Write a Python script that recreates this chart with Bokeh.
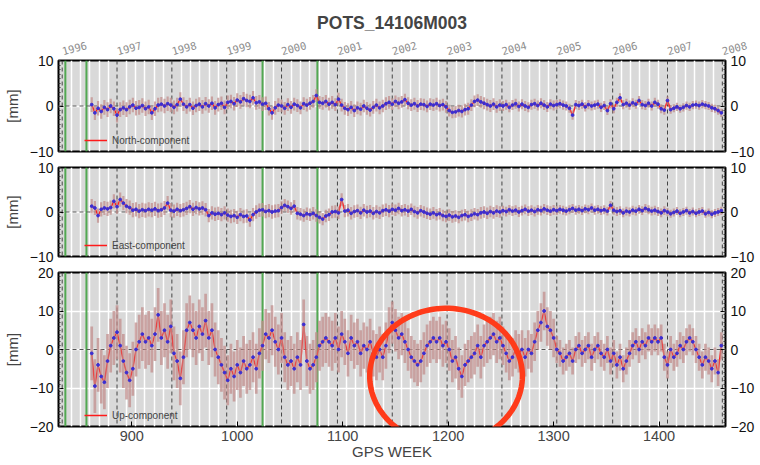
import datetime as dt
import numpy as np
from bokeh.plotting import figure
from bokeh.models import (Range1d, FixedTicker, LinearAxis, Span, Legend, LegendItem,
                          PolyAnnotation, Grid, ColumnDataSource)
from bokeh.layouts import column
from bokeh.embed import file_html
from bokeh.resources import INLINE

title_text = "POTS_14106M003"
x_label = "GPS WEEK"
y_label = "[mm]"
year_labels = ["1996", "1997", "1998", "1999", "2000", "2001", "2002",
               "2003", "2004", "2005", "2006", "2007", "2008"]
year_weeks = [834, 886, 938, 990, 1042, 1095, 1147, 1199, 1251, 1303, 1356, 1408, 1460]
green_weeks = [837, 857, 1024, 1076]
x_ticks = [900, 1000, 1100, 1200, 1300, 1400]
names = ["North-component", "East-component", "Up-component"]

weeks = list(range(862, 1460, 3))

north = [0.3, -1.5, -0.5, -1.2, -0.3, -0.8, 0.0, -0.6, -2.0, -0.8,
         -0.4, -0.8, -0.2, 0.2, -0.5, -0.3, 0.1, -0.6, -0.2, -1.5,
         -0.6, 0.2, 0.4, 0.0, 0.5, 0.2, -0.3, 0.3, 1.5, 0.4,
         -0.2, 0.3, -0.5, 0.1, 0.4, -0.2, 0.5, 0.0, 0.6, -0.4,
         0.3, 0.6, -0.3, 0.8, 1.0, 0.5, 1.3, 0.9, 1.6, 1.2,
         1.0, 1.8, 0.7, 0.9, 0.4, 0.6, -0.6, -1.5, -0.4, 0.2,
         0.0, -0.5, 0.3, -0.3, 0.4, 0.1, -0.4, 0.5, 0.2, 0.6,
         1.0, 2.3, 0.8, 0.6, 1.0, 0.4, 0.8, 0.3, 1.5, 0.2,
         -0.5, -0.8, -0.3, -1.0, -0.4, -0.7, 0.0, -0.5, -0.9, -0.3,
         0.2, -0.4, 0.0, 0.5, 0.8, 0.4, 1.0, 0.6, 0.9, 1.4,
         0.6, 0.2, 0.5, 0.0, 0.4, 0.3, -0.1, 0.4, 0.2, 0.5,
         0.1, 0.3, -0.2, -1.0, -1.4, -1.3, -1.0, -1.2, -0.8, -0.6,
         0.2, 1.0, 1.3, 0.9, 0.6, 0.3, 0.0, 0.4, -0.2, 0.2,
         0.0, 0.3, -0.3, 0.2, 0.5, -0.1, 0.4, 0.0, -0.3, 0.3,
         0.5, 0.1, 0.6, 0.2, -0.2, 0.4, 0.1, 0.3, 0.5, 0.2,
         0.0, -0.5, -2.0, 0.3, 0.1, 0.4, -0.2, 0.3, 0.0, 0.2,
         0.4, -0.3, 0.1, -1.0, 0.5, -0.6, 0.8, 1.8, 0.3, 0.6,
         0.2, 0.7, 0.4, 1.2, 0.3, 0.1, 0.6, 0.0, 0.8, 0.4,
         -0.6, -0.9, 1.2, -0.8, -0.5, -0.2, -0.6, -0.3, 0.1, -0.2,
         0.2, 0.3, 0.1, 0.4, 0.2, 0.0, -0.4, -0.6, -1.0, -1.5]

east = [1.3, 0.9, -0.8, 0.6, 0.9, 0.7, 1.0, 2.4, 1.2, 2.8,
        2.0, 1.3, 1.0, 0.4, 0.6, 0.2, 0.5, 0.3, 0.6, 0.4,
        0.7, 0.3, 0.5, 0.9, 2.0, 0.4, 0.2, 0.6, 0.3, 0.5,
        0.8, 1.2, 0.6, 1.0, 0.7, 0.9, 0.5, -0.8, -0.2, -0.5,
        -0.3, -0.6, -0.2, -0.7, -1.0, -0.8, -1.2, -0.6, -1.0, -0.9,
        -1.8, -0.6, 0.0, 0.4, 0.5, 0.1, 0.3, 0.0, 0.2, 0.3,
        1.0, 1.5, 1.2, 0.8, 1.3, -0.3, -0.5, -0.8, -0.4, -0.6,
        -0.3, -0.8, -1.2, -1.6, -0.9, -0.6, 0.0, 0.1, -0.2, 2.8,
        0.2, 0.4, -0.3, 0.1, 0.3, -0.2, 0.4, 0.0, 0.2, -0.3,
        0.1, -0.2, 0.3, 0.5, 0.2, 0.6, 0.4, 0.8, 0.3, 0.5,
        0.2, 0.6, 0.1, -0.2, 0.3, 0.0, -0.3, -0.5, -0.2, -0.6,
        -0.4, -0.8, -1.0, -0.7, -1.1, -0.9, -1.2, -0.8, -0.6, -1.0,
        -0.7, -0.4, -0.6, -0.2, 0.0, -0.3, 0.1, -0.2, 0.2, 0.0,
        0.3, 0.1, 0.5, 0.2, 0.4, 0.0, 0.3, 0.6, 0.2, 0.4,
        0.1, 0.5, 0.3, 0.7, 0.4, 0.2, 0.5, 0.3, 0.6, 0.4,
        0.2, 0.5, 0.8, 0.4, 0.6, 0.3, 0.7, 0.5, 0.9, 0.4,
        0.6, 0.3, 0.5, 0.2, 1.5, 0.4, 0.1, 0.3, -0.2, 0.2,
        0.0, 0.4, 0.2, 0.6, 0.3, 0.8, 0.5, 0.2, 0.4, 0.1,
        -0.2, 0.3, 0.0, -0.4, -0.1, 0.2, -0.3, 0.0, 0.3, -0.2,
        0.1, -0.3, 0.0, 0.2, -0.4, -0.1, -0.5, -0.2, 0.0, 0.3]

up = [-1.0, -9.5, -4.0, -7.0, -8.5, -3.0, 1.0, 3.0, 4.5, 1.0,
      -3.0, -6.0, -8.0, -5.0, 0.0, 2.0, 4.0, 2.0, 3.0, 1.0,
      4.0, 9.0, 3.0, 5.0, 2.0, 6.0, -1.0, -3.0, -7.5, -2.0,
      5.0, 7.0, 5.0, 3.0, 6.0, 4.0, 7.5, 3.0, 5.0, 0.0,
      -2.0, -4.0, -6.0, -8.0, -5.0, -7.0, -4.0, -6.0, -3.0, -5.0,
      -4.0, -2.0, -5.0, -1.0, 1.0, 4.0, 3.0, 5.0, 2.0, 0.0,
      3.0, -2.0, -4.0, -3.0, -5.0, -2.0, -4.0, 6.5, -3.0, -5.0,
      -4.0, -2.0, 1.0, 2.0, 3.0, 2.0, 1.0, 3.0, 0.0, 4.0,
      2.0, -1.0, 3.0, 1.0, 2.0, -1.0, 1.0, 0.0, 2.0, -1.0,
      -2.0, 0.0, -2.0, 1.0, 5.0, 7.0, 5.0, 3.0, 4.0, 2.0,
      0.0, -2.0, -3.0, -4.0, -3.0, -1.0, 1.0, 2.0, 3.0, 2.0,
      3.0, 1.0, 2.0, 0.0, -3.0, -2.0, -5.0, -7.0, -4.0, -3.0,
      -2.0, -1.0, 1.0, -2.0, 1.0, 2.0, 3.0, 4.0, 2.0, 3.0,
      1.0, -1.0, -3.0, -2.0, 0.0, -1.0, 0.0, -2.0, 0.0, -1.0,
      2.0, 5.0, 7.0, 10.0, 6.0, 5.0, 3.0, 0.0, -1.0, -3.0,
      -2.0, -1.0, -3.0, 0.0, 1.0, -1.0, 0.0, 1.0, -2.0, 0.0,
      1.0, -1.0, -2.0, 0.0, -3.0, -1.0, -4.0, -2.0, -5.0, -3.0,
      -1.0, 1.0, 2.0, 0.0, 2.0, 1.0, 3.0, 2.0, 3.0, 2.0,
      3.0, -2.0, -4.0, 0.0, -2.0, -1.0, 1.0, 0.0, 2.0, 3.0,
      2.0, 0.0, -2.0, -4.0, -2.0, -3.0, -5.0, -3.0, -6.0, 1.0]

# formal error (mm) for each calendar year 1996..2007
sigma_north = [1.6, 1.6, 1.5, 1.5, 1.4, 1.4, 1.3, 1.3, 1.1, 1.0, 1.0, 0.9]
sigma_east = [1.6, 1.6, 1.5, 1.5, 1.4, 1.4, 1.3, 1.3, 1.1, 1.0, 1.0, 0.9]
sigma_up = [7.0, 7.0, 7.0, 6.5, 6.5, 6.0, 5.5, 5.5, 5.0, 3.5, 3.5, 3.5]

# ---- styling helpers ----
FONT = "Liberation Sans"
FW = 667
XR = (830.5, 1463)
epoch = dt.date(1980, 1, 6)
minor_weeks = [(dt.date(y, m, 1) - epoch).days / 7.0
               for y in range(1996, 2008) for m in (3, 5, 7, 9, 11)]


def style_y_axis(ax, ticks):
    ax.ticker = FixedTicker(ticks=ticks, minor_ticks=list(range(int(ticks[0]), int(ticks[-1]) + 1)))
    ax.axis_line_color = None
    ax.major_tick_in = 5
    ax.major_tick_out = 0
    ax.minor_tick_in = 2
    ax.minor_tick_out = 0
    ax.major_tick_line_color = "black"
    ax.minor_tick_line_color = "#333333"
    ax.major_label_text_font = FONT
    ax.major_label_text_font_size = "14px"
    ax.major_label_text_color = "#111111"
    ax.major_label_standoff = 5


def panel(vals, sig_by_year, yr, yticks, fh, name, b_top, b_bot, bar_w, ellipse=None):
    p = figure(frame_width=FW, frame_height=fh, x_range=Range1d(*XR), y_range=Range1d(*yr),
               x_axis_location=None, y_axis_location=None, output_backend="svg",
               toolbar_location=None, min_border_left=50, min_border_right=26,
               min_border_top=b_top, min_border_bottom=b_bot)
    p.grid.visible = False
    p.background_fill_color = "#d9d9d9"
    p.border_fill_color = "white"
    p.outline_line_color = "black"
    p.outline_line_width = 2
    p.add_layout(Grid(dimension=0, ticker=FixedTicker(ticks=minor_weeks),
                      grid_line_color="white", grid_line_width=1.5))
    p.add_layout(Grid(dimension=1, ticker=FixedTicker(ticks=yticks),
                      grid_line_color="white", grid_line_width=1.5))
    for w in year_weeks:
        p.add_layout(Span(location=w, dimension="height", line_color="#444444",
                          line_dash="4 3", line_width=1, level="underlay"))
    for g in green_weeks:
        p.add_layout(Span(location=g, dimension="height", line_color="#52a852",
                          line_width=2, level="underlay"))
    p.add_layout(Span(location=0, dimension="width", line_color="#555555",
                      line_dash="4 3", line_width=1, level="underlay"))

    yi = np.searchsorted(year_weeks, weeks, side="right") - 1
    s = np.array(sig_by_year)[yi]
    v = np.array(vals)
    src = ColumnDataSource(dict(x=weeks, y=v, lo=v - s, hi=v + s))
    red = p.line("x", "y", source=src, line_color="#ff1a1a", line_width=1.5)
    p.segment("x", "lo", "x", "hi", source=src, line_color="#c28e8c",
              line_alpha=0.75, line_width=bar_w)
    p.scatter("x", "y", source=src, size=2.8, color="#3b2ed2")

    legend = Legend(items=[LegendItem(label=name, renderers=[red])], location=(26, 4),
                    background_fill_alpha=0, border_line_alpha=0, padding=0, margin=0,
                    glyph_width=23, glyph_height=14, label_standoff=5,
                    label_text_font=FONT, label_text_font_size="10px")
    p.add_layout(legend)

    la = LinearAxis(axis_label=y_label)
    style_y_axis(la, yticks)
    la.axis_label_text_font = FONT
    la.axis_label_text_font_size = "15px"
    la.axis_label_text_font_style = "normal"
    la.axis_label_standoff = 6
    p.add_layout(la, "left")
    ra = LinearAxis()
    style_y_axis(ra, yticks)
    p.add_layout(ra, "right")

    if ellipse is not None:
        t = np.linspace(0, 2 * np.pi, 120)
        cx, cy, rx, ry = ellipse
        p.add_layout(PolyAnnotation(xs=list(cx + rx * np.cos(t)), ys=list(cy + ry * np.sin(t)),
                                    fill_alpha=0, line_color="#ff3b1a", line_alpha=1.0,
                                    line_width=5.5))
    return p


p1 = panel(north, sigma_north, (-10, 10), [-10, 0, 10], 91, names[0], 60, 8, 2.2)
p1.title.text = title_text
p1.title.align = "center"
p1.title.text_font = FONT
p1.title.text_font_size = "17.5px"
p1.title.text_font_style = "bold"
p1.title.standoff = 4
ya = LinearAxis(ticker=FixedTicker(ticks=year_weeks),
                major_label_overrides={w: lab for w, lab in zip(year_weeks, year_labels)})
ya.axis_line_color = None
ya.major_tick_line_color = None
ya.minor_tick_line_color = None
ya.major_label_orientation = 0.26
ya.major_label_text_color = "#8e8e8e"
ya.major_label_text_font = "DejaVu Sans Mono"
ya.major_label_text_font_size = "10.5px"
ya.major_label_standoff = 3
p1.add_layout(ya, "above")

p2 = panel(east, sigma_east, (-10, 10), [-10, 0, 10], 89, names[1], 8, 8, 2.2)

p3 = panel(up, sigma_up, (-20, 20), [-20, -10, 0, 10, 20], 154, names[2], 8, 5, 2.7,
           ellipse=(1198, -6.9, 72.4, 17.6))
xa = LinearAxis(ticker=FixedTicker(ticks=x_ticks), axis_label=x_label)
xa.axis_line_color = None
xa.major_tick_in = 5
xa.major_tick_out = 0
xa.minor_tick_line_color = None
xa.major_label_text_font = FONT
xa.major_label_text_font_size = "14.5px"
xa.major_label_standoff = 4
xa.axis_label_text_font = FONT
xa.axis_label_text_font_size = "15px"
xa.axis_label_text_font_style = "normal"
xa.axis_label_standoff = -1
p3.add_layout(xa, "below")

layout = column(p1, p2, p3, spacing=0)
open("out.html", "w").write(file_html(layout, INLINE))
